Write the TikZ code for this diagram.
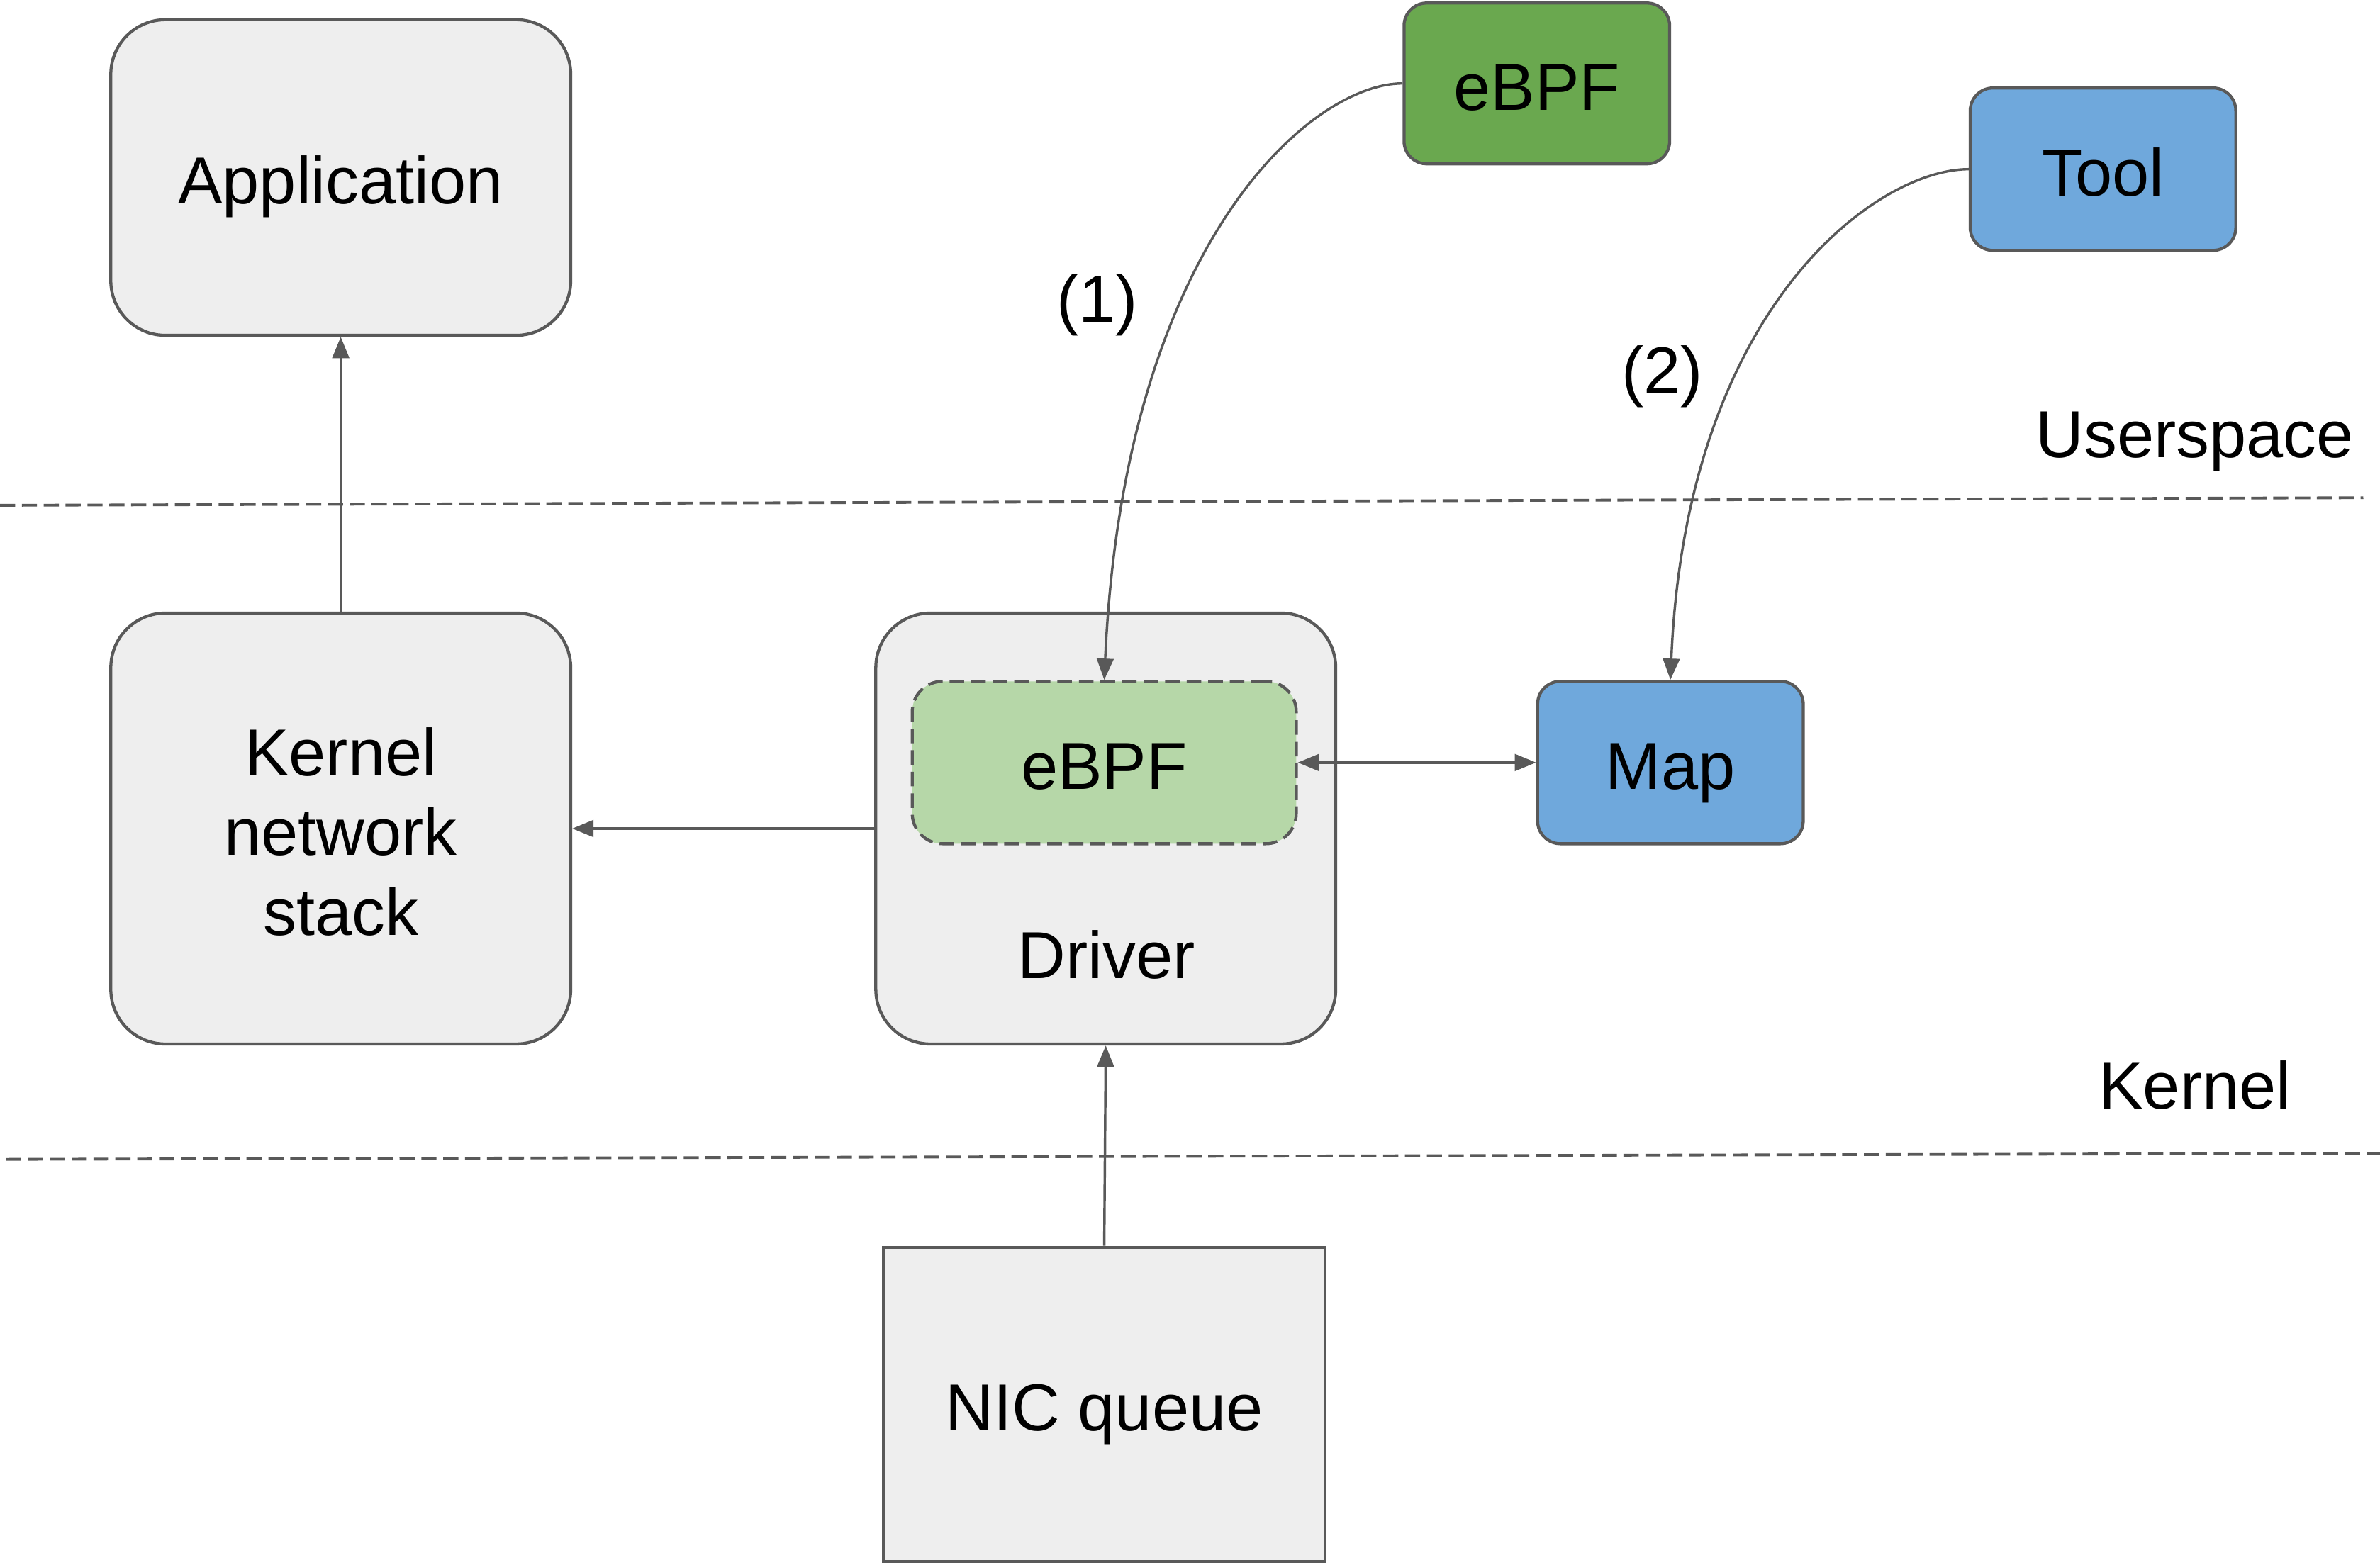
\documentclass[tikz,border=0pt]{standalone}
\usepackage{fontspec}
\setmainfont{Liberation Sans}
\usetikzlibrary{arrows.meta}
\definecolor{linegray}{HTML}{595959}
\definecolor{boxgray}{HTML}{EEEEEE}
\definecolor{dgreen}{HTML}{6AA84F}
\definecolor{lgreen}{HTML}{B6D7A8}
\definecolor{lblue}{HTML}{6FA8DC}
\begin{document}
\begin{tikzpicture}[x=0.5pt,y=-0.5pt,
  font=\fontsize{21.9}{26.3}\selectfont,
  txt/.style={text height=19.7pt, text depth=2.2pt},
  box/.style={draw=linegray, line width=1pt, fill=boxgray, align=center, inner sep=0pt},
  bigbox/.style={box, rounded corners=18pt},
  smallbox/.style={box, txt, rounded corners=7.5pt, minimum width=87.5pt, minimum height=53.5pt},
  conn/.style={draw=linegray, line width=0.8pt, -{Triangle[length=7pt,width=5.5pt]}},
  biconn/.style={draw=linegray, line width=0.8pt, {Triangle[length=7pt,width=5.5pt]}-{Triangle[length=7pt,width=5.5pt]}},
  sepline/.style={draw=linegray, line width=0.9pt, dash pattern=on 5pt off 2.2pt},
  lbl/.style={inner sep=0pt}]
\useasboundingbox (0,0) rectangle (1568,1031);

% separators
\coordinate (s1a) at (0,333);
\coordinate (s1b) at (1557,328);
\coordinate (s2a) at (4,764);
\coordinate (s2b) at (1568,760);
\draw[sepline] (s1a) -- (s1b);
\draw[sepline] (s2a) -- (s2b);

% boxes
\node[bigbox, txt, minimum width=151.5pt, minimum height=104pt] (app) at (224.5,117) {Application};
\node[bigbox, minimum width=151.5pt, minimum height=142pt] (kstack) at (224.5,546) {};
\node[lbl, align=center] (kstacklbl) at (224.5,548) {Kernel\\network\\stack};
\node[bigbox, minimum width=151.5pt, minimum height=142pt] (driver) at (728.5,546) {};
\node[lbl] (driverlbl) at (729,629) {Driver};
\node[box, txt, fill=lgreen, rounded corners=10pt, dash pattern=on 4.8pt off 2.3pt,
      minimum width=126.5pt, minimum height=53.5pt] (iebpf) at (727.5,502.5) {eBPF};
\node[smallbox, fill=lblue] (map) at (1100.5,502.5) {Map};
\node[smallbox, fill=dgreen, minimum height=53pt] (tebpf) at (1012.5,55) {eBPF};
\node[smallbox, fill=lblue] (tool) at (1385.5,111.5) {Tool};
\node[box, txt, minimum width=145.5pt, minimum height=103.5pt] (nic) at (727.5,925.5) {NIC queue};

% labels
\node[lbl] (one) at (723,201) {(1)};
\node[lbl] (two) at (1095,248) {(2)};
\node[lbl] (user) at (1446,291) {Userspace};
\node[lbl] (kern) at (1446,715) {Kernel};

% connectors
\draw[conn] (kstack.north) -- (app.south);
\draw[conn] (driver.west) -- (kstack.east);
\draw[conn] (nic.north) -- (driver.south);
\draw[biconn] (iebpf.east) -- (map.west);
\draw[conn] (tebpf.west) .. controls +(-60,0) and +(13,-288) .. (iebpf.north);
\draw[conn] (tool.west) .. controls +(-60,0) and +(10.5,-247) .. (map.north);
\end{tikzpicture}
\end{document}
